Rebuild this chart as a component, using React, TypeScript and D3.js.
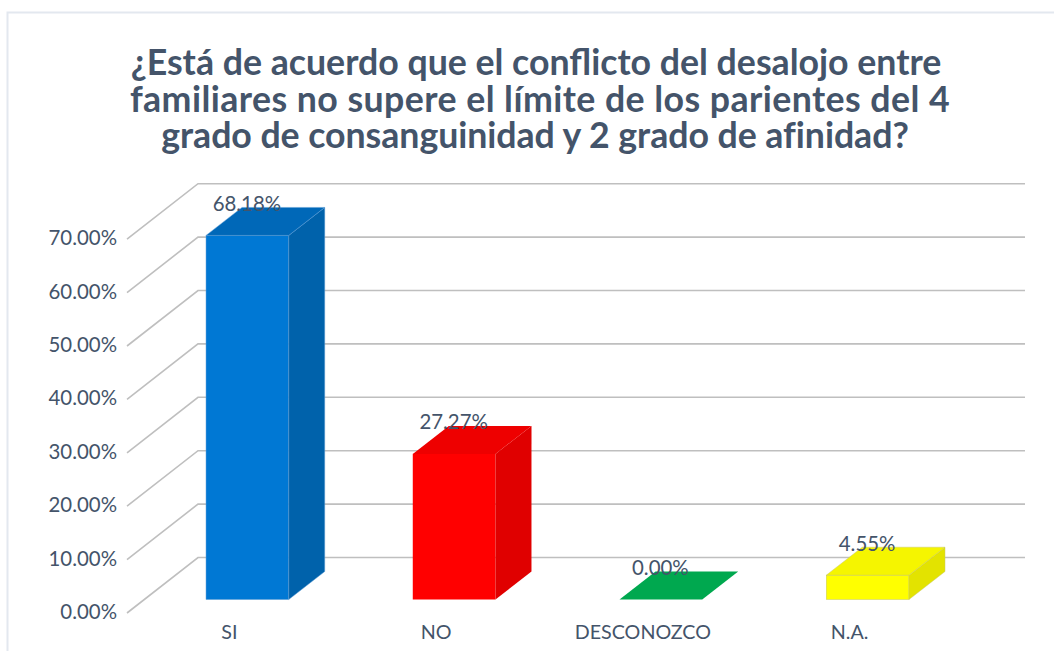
import React from "react";
import * as d3 from "d3";

const categories = ["SI", "NO", "DESCONOZCO", "N.A."];
const values = [68.18, 27.27, 0, 4.55];
const fronts = ["#0078d4", "#ff0000", "#00a84f", "#ffff00"];
const tops = ["#0068b8", "#ee0000", "#00a84f", "#f5f500"];
const sides = ["#0062ab", "#e00000", "#00a84f", "#e3e300"];
const ticks = [0, 10, 20, 30, 40, 50, 60, 70];
const titleLines = [
  "¿Está de acuerdo que el conflicto del desalojo entre",
  "familiares no supere el límite de los parientes del 4",
  "grado de consanguinidad y 2 grado de afinidad?",
];

const W = 1054, H = 651;
const INK = "#44546a";
const FONT = "Lato, Carlito, 'Open Sans', sans-serif";
const DX = 36, DY = 28;
const TITLE_X = [536, 540, 535];
const TITLE_SPACING = [0, 0.44, -0.05];

export default function App() {
  const x = d3.scaleBand<string>().domain(categories).range([144, 971]).paddingInner(0.6).paddingOuter(0.3);
  const y = d3.scaleLinear().domain([0, 70]).range([599.5, 225.7]);
  const wallY = d3.scaleLinear().domain([0, 70]).range([557.5, 183.7]);
  const floorY = d3.scaleLinear().domain([0, 70]).range([613, 239.2]);
  const poly = (pts: [number, number][]) => pts.map((p) => p.join(",")).join(" ");
  return (
    <svg width={W} height={H} viewBox={`0 0 ${W} ${H}`} style={{ position: "absolute", left: 0, top: 0, display: "block" }}>
      <rect width={W} height={H} fill="#ffffff" />
      <path d={`M7.5 ${H} V12.5 H${W}`} fill="none" stroke="#e3e8ef" strokeWidth={2} />
      <g fontFamily={FONT} fontWeight={700} fontSize={35.7} fill={INK} textAnchor="middle">
        {titleLines.map((t, i) => (
          <text key={t} x={TITLE_X[i]} y={75 + i * 36.5} letterSpacing={TITLE_SPACING[i]}>{t}</text>
        ))}
      </g>
      <g fill="none" stroke="#bfbfbf" strokeWidth={1.6}>
        {ticks.map((t) => (
          <polyline key={t} points={poly([[127, floorY(t)], [198, wallY(t)], [1025, wallY(t)]])} />
        ))}
      </g>
      <g fontFamily={FONT} fontSize={20.4} fill={INK} textAnchor="end">
        {ticks.map((t) => (
          <text key={t} x={117} y={floorY(t) + 6}>{t.toFixed(2)}%</text>
        ))}
      </g>
      {categories.map((c, i) => {
        const x0 = x(c)!;
        const x1 = x0 + x.bandwidth();
        const yb = y(0);
        const yt = y(values[i]);
        const edge = i === 3 ? "#c8c864" : i === 0 ? "#5b9bd5" : "none";
        return (
          <g key={c}>
            {values[i] > 0 && (
              <>
                <rect x={x0} y={yt} width={x1 - x0} height={yb - yt} fill={fronts[i]} stroke={edge} strokeWidth={0.5} />
                <polygon points={poly([[x1, yt], [x1 + DX, yt - DY], [x1 + DX, yb - DY], [x1, yb]])} fill={sides[i]} stroke={edge} strokeWidth={0.5} />
              </>
            )}
            <polygon points={poly([[x0, yt], [x0 + DX, yt - DY], [x1 + DX, yt - DY], [x1, yt]])} fill={tops[i]} stroke={edge} strokeWidth={0.5} />
          </g>
        );
      })}
      <g fontFamily={FONT} fontSize={20.4} fill={INK} textAnchor="middle">
        {categories.map((c, i) => (
          <text key={c} x={x(c)! + x.bandwidth() / 2 - 0.5} y={y(values[i]) - DY + 3.5}>
            {values[i].toFixed(2)}%
          </text>
        ))}
      </g>
      <g fontFamily={FONT} fontSize={19.7} fill={INK}>
        {categories.map((c) => (
          <text key={c} x={x(c)! + x.bandwidth() / 2 - 18} y={638.5} textAnchor="middle">{c}</text>
        ))}
      </g>
    </svg>
  );
}
